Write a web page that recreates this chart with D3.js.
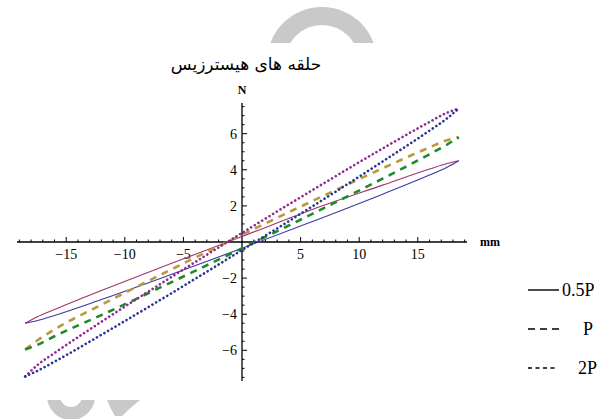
<!DOCTYPE html>
<html><head><meta charset="utf-8">
<script src="https://cdn.jsdelivr.net/npm/d3@7/dist/d3.min.js"></script>
<style>body{margin:0;background:#fff}svg{display:block}</style>
</head><body>
<svg id="c" width="610" height="419"></svg>
<script>
// ---- data ----
const xs      = [-18.5,-17.5,-16,-12,-6,0,6,12,16,17.5,18.5];
const halfPUp = [-4.5,-4.15,-3.74,-2.69,-1.18,0.3,1.8,3.15,4.04,4.35,4.5];
const halfPLo = [-4.5,-4.36,-4.07,-3.19,-1.79,-0.35,1.13,2.65,3.71,4.14,4.5];
const pUp     = [-5.95,-5.47,-4.84,-3.48,-1.51,0.4,2.27,4.08,5.24,5.64,5.8];
const pLo     = [-5.95,-5.71,-5.22,-4.05,-2.22,-0.35,1.56,3.51,4.86,5.4,5.8];
const twoPUp  = [-7.45,-6.84,-6.15,-4.42,-1.93,0.5,2.87,5.18,6.65,7.16,7.4];
const twoPLo  = [-7.45,-7.15,-6.63,-5.14,-2.83,-0.45,1.97,4.46,6.17,6.85,7.4];
const xTicks  = [-15,-10,-5,5,10,15];
const yTicks  = [-6,-4,-2,2,4,6];
const legendLabels = ["0.5P","P","2P"];
const titleText = "حلقه های هیسترزیس";

const svg = d3.select("#c");
const serif = "'Liberation Serif','DejaVu Serif',serif";

// watermark fragments
const gray = "#c9c9c9";
const defs = svg.append("defs");
defs.append("clipPath").attr("id","topclip").append("rect").attr("x",0).attr("y",0).attr("width",610).attr("height",43);
defs.append("clipPath").attr("id","botclip").append("rect").attr("x",0).attr("y",400).attr("width",610).attr("height",19);
const arc = d3.arc();
svg.append("g").attr("clip-path","url(#topclip)").append("path")
  .attr("transform","translate(322,62)")
  .attr("d", arc({innerRadius:37,outerRadius:55,startAngle:-Math.PI/2,endAngle:Math.PI/2}))
  .attr("fill",gray);
const bot = svg.append("g").attr("clip-path","url(#botclip)");
bot.append("path")
  .attr("transform","translate(71,396)")
  .attr("d", arc({innerRadius:11,outerRadius:24,startAngle:Math.PI/2,endAngle:3*Math.PI/2}))
  .attr("fill",gray);
bot.append("path")
  .attr("d","M107,400 L140,400 Q130,408 122,416 L115,416 Q110,408 107,400 Z").attr("fill",gray);

const x = d3.scaleLinear().domain([-19.2,19.2]).range([17,467]);
const y = d3.scaleLinear().domain([-7.7,7.7]).range([381,103]);

// axes
const ax = svg.append("g").attr("stroke","#000");
ax.append("line").attr("x1",x(-19.2)).attr("x2",x(19.2)).attr("y1",y(0)).attr("y2",y(0)).attr("stroke-width",1.3);
ax.append("line").attr("x1",x(0)).attr("x2",x(0)).attr("y1",y(7.7)).attr("y2",y(-7.7)).attr("stroke-width",1.3);
const xMinor = d3.range(-19,20,1).filter(v=>v!==0);
ax.selectAll(".xt").data(xMinor).join("line")
  .attr("x1",d=>x(d)).attr("x2",d=>x(d)).attr("y1",y(0))
  .attr("y2",d=>y(0)-(d%5===0?5:2.5)).attr("stroke-width",1);
const yMinor = d3.range(-7.5,7.6,0.5).filter(v=>v!==0);
ax.selectAll(".yt").data(yMinor).join("line")
  .attr("y1",d=>y(d)).attr("y2",d=>y(d)).attr("x1",x(0))
  .attr("x2",d=>x(0)+(d%2===0?5:2.5)).attr("stroke-width",1);

svg.selectAll(".xl").data(xTicks).join("text")
  .attr("x",d=>x(d)).attr("y",y(0)+17).attr("text-anchor","middle")
  .attr("font-family",serif).attr("font-size",14)
  .text(d=>d<0?"\u2212"+(-d):d);
svg.selectAll(".yl").data(yTicks).join("text")
  .attr("x",x(0)-5).attr("y",d=>y(d)+5).attr("text-anchor","end")
  .attr("font-family",serif).attr("font-size",14)
  .text(d=>d<0?"\u2212"+(-d):d);

svg.append("text").attr("x",x(19.2)+13).attr("y",y(0)+4).attr("font-family",serif)
  .attr("font-size",12).attr("font-weight","bold").text("mm");
svg.append("text").attr("x",x(0)).attr("y",94).attr("text-anchor","middle").attr("font-family",serif)
  .attr("font-size",12).attr("font-weight","bold").text("N");
svg.append("text").attr("x",246).attr("y",70).attr("text-anchor","middle")
  .attr("font-family","'DejaVu Sans',sans-serif").attr("font-size",17).attr("direction","rtl").text(titleText);

// curves
const line = d3.line().x((d,i)=>x(xs[i])).y(d=>y(d)).curve(d3.curveMonotoneX);
const series = [
  {v:halfPUp, c:"#a3336f", w:1.1, dash:null},
  {v:halfPLo, c:"#3a3aa8", w:1.1, dash:null},
  {v:pUp,     c:"#b89a3c", w:2.6, dash:"7 6"},
  {v:pLo,     c:"#1f8a2a", w:2.6, dash:"7 6"},
  {v:twoPUp,  c:"#8e2a93", w:2.6, dash:"0.1 4.2"},
  {v:twoPLo,  c:"#2a3592", w:2.6, dash:"0.1 4.2"}
];
svg.selectAll(".s").data(series).join("path")
  .attr("d",d=>line(d.v)).attr("fill","none").attr("stroke",d=>d.c)
  .attr("stroke-width",d=>d.w).attr("stroke-dasharray",d=>d.dash)
  .attr("stroke-linecap",d=>d.dash&&d.dash.startsWith("0.1")?"round":"butt");

// legend
const leg = [
  {y:290, dash:null, lx:562, x2:559},
  {y:329, dash:"7 5", lx:583, x2:561},
  {y:368, dash:"4 3.5", lx:578, x2:557}
];
leg.forEach((d,i)=>{
  svg.append("line").attr("x1",528).attr("x2",d.x2).attr("y1",d.y).attr("y2",d.y)
    .attr("stroke","#000").attr("stroke-width",1.4).attr("stroke-dasharray",d.dash);
  svg.append("text").attr("x",d.lx).attr("y",d.y+6).attr("font-family",serif)
    .attr("font-size",18).text(legendLabels[i]);
});
</script>
</body></html>
